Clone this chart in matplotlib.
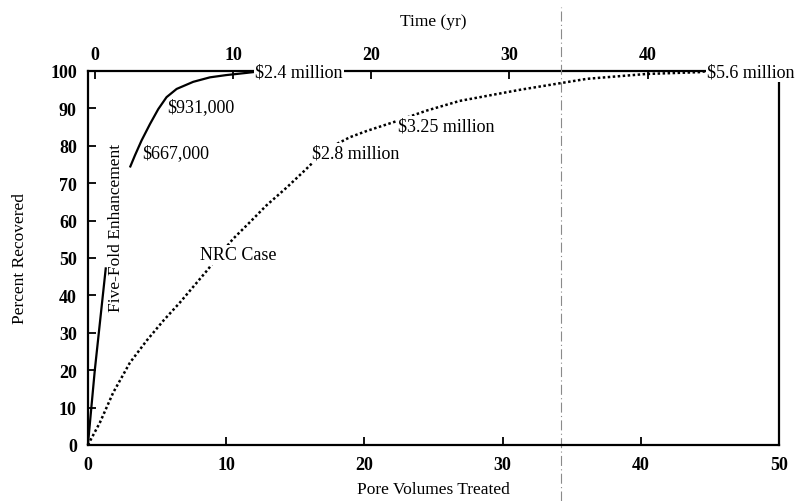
import numpy as np
import matplotlib
matplotlib.use("Agg")
import matplotlib.pyplot as plt

plt.rcParams["font.family"] = ["Liberation Serif", "DejaVu Serif"]

# Five-fold enhancement recovery curve (NaN leaves room for its label)
fivefold_pv = [0, 0.5, 1.3, np.nan,
               3.04, 3.40, 3.88, 4.49, 5.09, 5.69, 6.42, 7.62, 8.83, 10.0, 11.5, 12.2]
fivefold_pct = [0, 20, 47.5, np.nan,
                74.2, 77.4, 81.4, 85.8, 89.8, 93.0, 95.2, 97.1, 98.3, 98.9, 99.5, 99.8]

# NRC case recovery curve
nrc_pv = [0, 0.87, 1.83, 3.04, 4.25, 5.45, 6.66, 8.7, 9.07, 10.5, 11.7, 12.9,
          14.4, 15.8, 16.4, 17.75, 18.96, 20.2, 22.1, 24.5, 26.9, 31.3, 36.1,
          40.4, 44.3, 44.8]
nrc_pct = [0, 6, 14, 22, 27.9, 33.2, 38.1, 47, 48.8, 55.1, 59.5, 64.0,
           68.9, 73.8, 76.0, 80.0, 82.3, 84.0, 86.3, 89.4, 92.0, 95.0, 97.9,
           99.2, 99.7, 100]

# Cost annotations: (text, pore volumes, percent, masked background)
cost_labels = [
    ("$667,000", 3.9, 78.3, False),
    ("$931,000", 5.72, 90.4, False),
    ("$2.4 million", 12.1, 99.6, True),
    ("$2.8 million", 16.2, 78.0, True),
    ("$3.25 million", 22.4, 85.3, True),
    ("$5.6 million", 44.8, 99.8, True),
]
nrc_label = ("NRC Case", 8.1, 50.8)
fivefold_label = ("Five-Fold Enhancement", 2.0, 58.3)

time_offset = 0.5          # pore volumes at time zero
marker_pv = 34.2           # vertical reference line
x_ticks = [0, 10, 20, 30, 40, 50]
y_ticks = [0, 10, 20, 30, 40, 50, 60, 70, 80, 90, 100]
time_ticks = [0, 10, 20, 30, 40]

fig = plt.figure(figsize=(7.99, 5.02), dpi=100)
ax = fig.add_axes([0.110, 0.1116, 0.865, 0.745])
ax.set_xlim(0, 50)
ax.set_ylim(0, 100)

ax.plot(fivefold_pv, fivefold_pct, color="black", lw=1.6,
        solid_capstyle="butt", solid_joinstyle="round", zorder=3, clip_on=False)
ax.plot(nrc_pv, nrc_pct, color="black", lw=1.8, linestyle=(0, (1, 1.0)),
        zorder=3, clip_on=False)

ax.axvline(marker_pv, ymin=-0.15, ymax=1.17, color="#8a8a8a", lw=0.8,
           linestyle=(0, (9, 3, 1, 3)), clip_on=False, zorder=1)

box = dict(facecolor="white", edgecolor="none", pad=1.0)
for text, px, py, masked in cost_labels:
    ax.text(px, py, text, fontsize=13, ha="left", va="center",
            bbox=box if masked else None, zorder=6, clip_on=False)
ax.text(nrc_label[1], nrc_label[2], nrc_label[0], fontsize=13,
        ha="left", va="center", bbox=box, zorder=6)
ax.text(fivefold_label[1], fivefold_label[2], fivefold_label[0], fontsize=12.5,
        ha="center", va="center", rotation=90, zorder=6)

# Axes frame and ticks
for side in ("left", "bottom", "right"):
    ax.spines[side].set_linewidth(1.6)
ax.spines["top"].set_visible(False)

ax.set_xticks(x_ticks)
ax.set_yticks(y_ticks)
ax.tick_params(direction="in", length=6, width=1.3, labelsize=13, pad=8,
               right=False, top=False)
for lab in ax.get_xticklabels() + ax.get_yticklabels():
    lab.set_fontweight("bold")

secax = ax.secondary_xaxis("top", functions=(lambda pv: pv - time_offset,
                                              lambda t: t + time_offset))
secax.set_xticks(time_ticks)
secax.spines["top"].set_linewidth(1.6)
secax.tick_params(direction="in", length=6, width=1.3, labelsize=13, pad=6)
for lab in secax.get_xticklabels():
    lab.set_fontweight("bold")
secax.set_xlabel("Time (yr)", fontsize=12.5, labelpad=15)

ax.set_xlabel("Pore Volumes Treated", fontsize=12.5, labelpad=6)
ax.set_ylabel("Percent Recovered", fontsize=12.5, labelpad=16)

fig.savefig("out.png", dpi=100, facecolor="white")
